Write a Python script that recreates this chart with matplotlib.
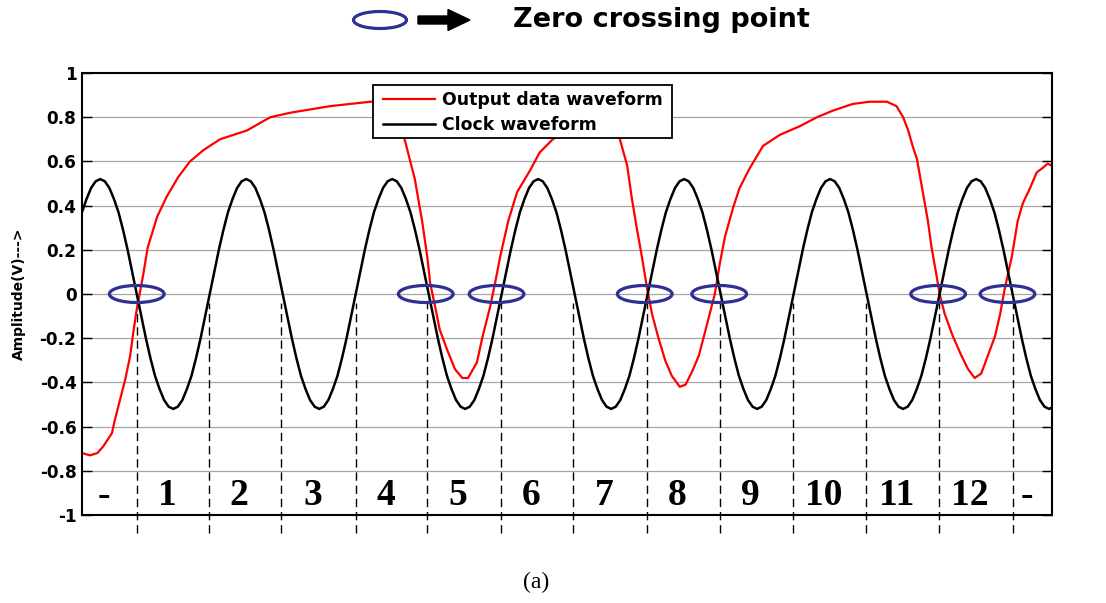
import numpy as np
import matplotlib
matplotlib.use("Agg")
import matplotlib.pyplot as plt
from matplotlib.patches import Ellipse, FancyArrow, Rectangle
from matplotlib.lines import Line2D

# Time axis is expressed in clock half-periods (one bit slot each).
CLOCK_STEP = 1 / 16
clock_y = [
    0.37, 0.43, 0.48, 0.51, 0.52, 0.51, 0.48, 0.43, 0.37, 0.29, 0.20, 0.10, 0.00, -0.10, -0.20, -0.29,
    -0.37, -0.43, -0.48, -0.51, -0.52, -0.51, -0.48, -0.43, -0.37, -0.29, -0.20, -0.10, 0.00, 0.10, 0.20, 0.29,
    0.37, 0.43, 0.48, 0.51, 0.52, 0.51, 0.48, 0.43, 0.37, 0.29, 0.20, 0.10, 0.00, -0.10, -0.20, -0.29,
    -0.37, -0.43, -0.48, -0.51, -0.52, -0.51, -0.48, -0.43, -0.37, -0.29, -0.20, -0.10, 0.00, 0.10, 0.20, 0.29,
    0.37, 0.43, 0.48, 0.51, 0.52, 0.51, 0.48, 0.43, 0.37, 0.29, 0.20, 0.10, 0.00, -0.10, -0.20, -0.29,
    -0.37, -0.43, -0.48, -0.51, -0.52, -0.51, -0.48, -0.43, -0.37, -0.29, -0.20, -0.10, 0.00, 0.10, 0.20, 0.29,
    0.37, 0.43, 0.48, 0.51, 0.52, 0.51, 0.48, 0.43, 0.37, 0.29, 0.20, 0.10, 0.00, -0.10, -0.20, -0.29,
    -0.37, -0.43, -0.48, -0.51, -0.52, -0.51, -0.48, -0.43, -0.37, -0.29, -0.20, -0.10, 0.00, 0.10, 0.20, 0.29,
    0.37, 0.43, 0.48, 0.51, 0.52, 0.51, 0.48, 0.43, 0.37, 0.29, 0.20, 0.10, 0.00, -0.10, -0.20, -0.29,
    -0.37, -0.43, -0.48, -0.51, -0.52, -0.51, -0.48, -0.43, -0.37, -0.29, -0.20, -0.10, 0.00, 0.10, 0.20, 0.29,
    0.37, 0.43, 0.48, 0.51, 0.52, 0.51, 0.48, 0.43, 0.37, 0.29, 0.20, 0.10, 0.00, -0.10, -0.20, -0.29,
    -0.37, -0.43, -0.48, -0.51, -0.52, -0.51, -0.48, -0.43, -0.37, -0.29, -0.20, -0.10, 0.00, 0.10, 0.20, 0.29,
    0.37, 0.43, 0.48, 0.51, 0.52, 0.51, 0.48, 0.43, 0.37, 0.29, 0.20, 0.10, 0.00, -0.10, -0.20, -0.29,
    -0.37, -0.43, -0.48, -0.51, -0.52, -0.51,
]

data_x = [0.00, 0.11, 0.21, 0.29, 0.41, 0.45, 0.52, 0.59, 0.66, 0.70, 0.75, 0.79, 0.84, 0.90,
          1.03, 1.16, 1.32, 1.48, 1.66, 1.89, 2.26, 2.58, 2.85, 3.40, 3.95, 4.15, 4.26, 4.36,
          4.42, 4.56, 4.66, 4.73, 4.77, 4.84, 4.90, 5.00, 5.11, 5.21, 5.29, 5.41, 5.49, 5.59,
          5.66, 5.73, 5.84, 5.96, 6.14, 6.27, 6.45, 6.68, 6.96, 7.14, 7.26, 7.37, 7.47, 7.53,
          7.60, 7.67, 7.74, 7.81, 7.89, 7.99, 8.08, 8.19, 8.27, 8.36, 8.45, 8.53, 8.60, 8.67,
          8.74, 8.81, 8.92, 9.01, 9.15, 9.33, 9.56, 9.84, 10.07, 10.29, 10.56, 10.79, 11.03,
          11.16, 11.25, 11.32, 11.38, 11.44, 11.51, 11.59, 11.64, 11.71, 11.75, 11.82, 11.93,
          12.05, 12.14, 12.23, 12.32, 12.41, 12.51, 12.58, 12.64, 12.74, 12.82, 12.89, 12.99,
          13.08, 13.16, 13.23, 13.29]
data_y = [-0.72, -0.73, -0.72, -0.69, -0.63, -0.57, -0.48, -0.39, -0.28, -0.18, -0.07, 0.00, 0.09, 0.21,
          0.35, 0.44, 0.53, 0.60, 0.65, 0.70, 0.74, 0.80, 0.82, 0.85, 0.87, 0.87, 0.85, 0.79,
          0.70, 0.52, 0.33, 0.17, 0.05, -0.06, -0.16, -0.25, -0.34, -0.38, -0.38, -0.31, -0.19, -0.06,
          0.05, 0.17, 0.33, 0.46, 0.56, 0.64, 0.70, 0.75, 0.79, 0.79, 0.76, 0.70, 0.58, 0.44,
          0.30, 0.17, 0.03, -0.09, -0.19, -0.30, -0.37, -0.42, -0.41, -0.35, -0.28, -0.18, -0.09, 0.00,
          0.14, 0.26, 0.39, 0.48, 0.57, 0.67, 0.72, 0.76, 0.80, 0.83, 0.86, 0.87, 0.87,
          0.85, 0.80, 0.74, 0.67, 0.61, 0.48, 0.33, 0.21, 0.08, 0.00, -0.09, -0.19,
          -0.28, -0.34, -0.38, -0.36, -0.28, -0.19, -0.09, 0.02, 0.17, 0.33, 0.41, 0.48,
          0.55, 0.57, 0.59, 0.58]

crossing_x = [0.75, 4.71, 5.68, 7.71, 8.73, 11.73, 12.68]
slot_edges = [0.75, 1.74, 2.73, 3.75, 4.73, 5.74, 6.73, 7.74, 8.74, 9.74, 10.74, 11.74, 12.75]
slot_labels = ['-', '1', '2', '3', '4', '5', '6', '7', '8', '9', '10', '11', '12', '-']
ytick_vals = [-1, -0.8, -0.6, -0.4, -0.2, 0, 0.2, 0.4, 0.6, 0.8, 1]
ytick_text = ['-1', '-0.8', '-0.6', '-0.4', '-0.2', '0', '0.2', '0.4', '0.6', '0.8', '1']
series_names = ['Output data waveform', 'Clock waveform']

X_MAX = 13.29
RING = '#2E3192'
RED = '#ff0000'

W, H = 1106, 603
fig = plt.figure(figsize=(W / 100, H / 100), dpi=100)
fig.patch.set_facecolor('white')

ax = fig.add_axes([82 / W, 1 - 515 / H, 970 / W, 442 / H])
ax.set_xlim(0, X_MAX)
ax.set_ylim(-1, 1)

# horizontal grid
for v in ytick_vals[1:-1]:
    ax.axhline(v, color='#a6a6a6', lw=0.9, zorder=0)

# slot boundaries at the clock zero crossings
ax.vlines(slot_edges, -1.08, -0.04, colors='black', lw=1.0,
          linestyles=(0, (6, 3.5)), clip_on=False, zorder=1)

clock_x = np.arange(len(clock_y)) * CLOCK_STEP
ax.plot(data_x, data_y, color=RED, lw=1.6, zorder=2)
ax.plot(clock_x, clock_y, color='black', lw=1.8, zorder=3)

for cx in crossing_x:
    ax.add_patch(Ellipse((cx, 0.0), 0.75, 0.077, fill=False, ec=RING, lw=2.3, zorder=4))

# bit slot numbers
edges = [0.0] + slot_edges + [X_MAX]
for i, lab in enumerate(slot_labels):
    mid = 0.5 * (edges[i] + edges[i + 1]) - 0.08
    ax.text(mid, -0.91, lab, ha='center', va='center', fontsize=27,
            family='Liberation Serif', weight='bold', zorder=5)

ax.set_yticks(ytick_vals)
ax.set_yticklabels(ytick_text)
ax.set_xticks([])
ax.tick_params(axis='y', direction='in', length=7, width=1, left=True, right=True,
               pad=4, labelsize=12.2)
for lab in ax.get_yticklabels():
    lab.set_fontweight('bold')
for s in ax.spines.values():
    s.set_linewidth(1.5)
    s.set_color('black')

ax.set_ylabel('Amplitude(V)--->', fontsize=10, weight='bold')
ax.yaxis.set_label_coords(-0.058, 0.5)

# overlay in pixel coordinates: legend box, header key and caption
oax = fig.add_axes([0, 0, 1, 1])
oax.set_xlim(0, W)
oax.set_ylim(H, 0)
oax.axis('off')
oax.patch.set_visible(False)

oax.add_patch(Rectangle((373, 85), 299, 53, facecolor='white', edgecolor='black', lw=1.3))
for (yy, col, name) in [(99, RED, series_names[0]), (124, 'black', series_names[1])]:
    oax.add_line(Line2D([383, 435], [yy, yy], color=col, lw=1.6 if col == RED else 1.8))
    oax.text(442, yy + 1, name, fontsize=12.4, weight='bold', ha='left', va='center')

oax.add_patch(Ellipse((380, 20), 53, 17, fill=False, ec=RING, lw=2.3))
oax.add_patch(FancyArrow(418, 20, 52, 0, width=8, head_width=21, head_length=22,
                         length_includes_head=True, color='black'))
oax.text(513, 20, 'Zero crossing point', fontsize=19.5, weight='bold',
         ha='left', va='center')
oax.text(536, 582, '(a)', fontsize=17, family='Liberation Serif',
         ha='center', va='center')

fig.savefig('out.png', dpi=100)
